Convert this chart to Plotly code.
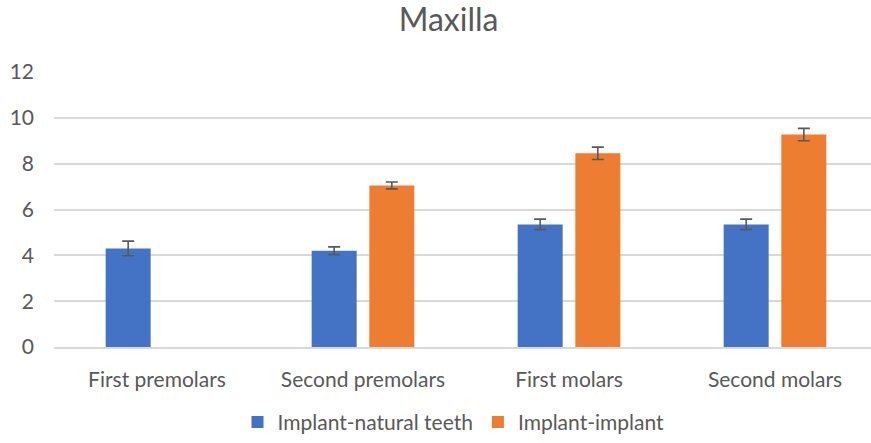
import plotly.graph_objects as go

categories = ["First premolars", "Second premolars", "First molars", "Second molars"]
natural_vals = [4.3, 4.2, 5.35, 5.35]
natural_err = [0.32, 0.17, 0.23, 0.23]
implant_vals = [None, 7.05, 8.45, 9.27]
implant_err = [None, 0.15, 0.27, 0.27]
y_ticks = [0, 2, 4, 6, 8, 10, 12]

FONT = "Lato"
GREY = "#595959"

fig = go.Figure()
fig.add_trace(go.Bar(
    x=categories, y=natural_vals, name="Implant-natural teeth",
    marker=dict(color="#4472C4", line=dict(width=0)),
    error_y=dict(type="data", array=natural_err, visible=True,
                 color=GREY, thickness=1.6, width=6),
))
fig.add_trace(go.Bar(
    x=categories, y=implant_vals, name="Implant-implant",
    marker=dict(color="#ED7D31", line=dict(width=0)),
    error_y=dict(type="data", array=implant_err, visible=True,
                 color=GREY, thickness=1.6, width=6),
))

fig.update_layout(
    width=871, height=443,
    paper_bgcolor="white", plot_bgcolor="white",
    margin=dict(l=54, r=0, t=72, b=94),
    barmode="group", bargap=0.44, bargroupgap=0.22,
    title=dict(text="Maxilla", xref="paper", x=0.483, xanchor="center",
               y=0.955, yanchor="middle",
               font=dict(family=FONT, size=32, color=GREY)),
    font=dict(family=FONT, size=21, color=GREY),
    legend=dict(orientation="h", xref="paper", x=0.489, xanchor="center",
                y=-0.274, yanchor="middle",
                font=dict(family=FONT, size=21, color=GREY), itemwidth=30,
                traceorder="normal"),
    xaxis=dict(showgrid=False, showline=True, linecolor="#d9d9d9", linewidth=1.5,
               ticks="", ticklabelstandoff=13, range=[-0.5, 3.466],
               tickfont=dict(family=FONT, size=21, color=GREY)),
    yaxis=dict(range=[0, 12], tickvals=y_ticks, showgrid=True, gridcolor="#d9d9d9",
               gridwidth=1.5, zeroline=False, ticks="", ticklabelstandoff=19,
               tickfont=dict(family=FONT, size=21, color=GREY)),
)

fig.write_html(
    "out.html",
    config={"displayModeBar": False},
    post_script="document.body.style.margin='0';document.body.style.overflow='hidden';",
)
